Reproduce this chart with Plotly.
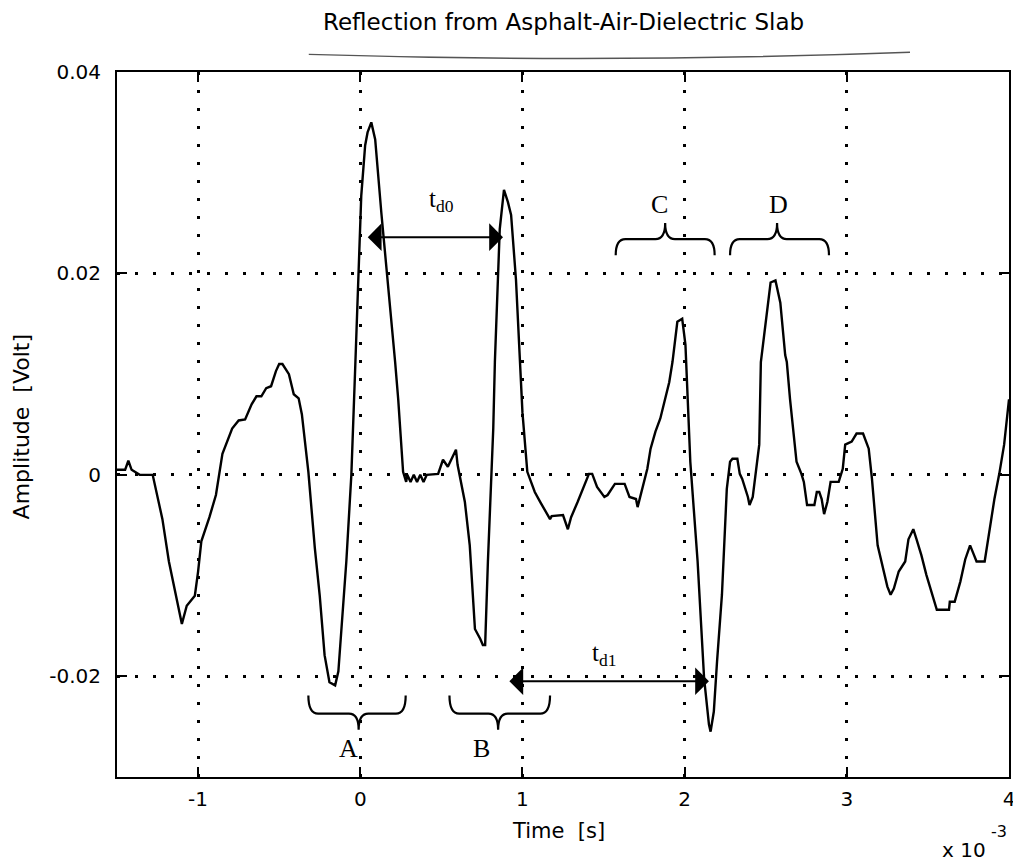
import plotly.graph_objects as go

# ---- data (time in ms, i.e. x 10^-3 s ; amplitude in Volt) ----
time_ms = [-1.5, -1.45, -1.43, -1.41, -1.36, -1.28, -1.22, -1.18, -1.10, -1.07,
           -1.02, -1.0, -0.98, -0.93, -0.89, -0.85, -0.79, -0.75, -0.71, -0.67,
           -0.64, -0.61, -0.58, -0.55, -0.52, -0.50, -0.48, -0.44, -0.41, -0.38,
           -0.36, -0.32, -0.28, -0.25, -0.22, -0.19, -0.155, -0.135, -0.086, -0.055,
           -0.03, -0.01, 0.006, 0.03, 0.045, 0.068, 0.092, 0.13, 0.17, 0.215,
           0.234, 0.264, 0.283, 0.29, 0.31, 0.33, 0.35, 0.37, 0.39, 0.41,
           0.48, 0.51, 0.54, 0.56, 0.59, 0.60, 0.645, 0.675, 0.707, 0.74,
           0.756, 0.77, 0.787, 0.82, 0.83, 0.86, 0.886, 0.91, 0.93, 0.96,
           0.984, 1.0, 1.03, 1.076, 1.11, 1.17, 1.18, 1.25, 1.28, 1.30,
           1.34, 1.38, 1.41, 1.43, 1.46, 1.505, 1.525, 1.57, 1.63, 1.66,
           1.70, 1.71, 1.74, 1.77, 1.79, 1.82, 1.85, 1.875, 1.905, 1.925,
           1.955, 1.985, 2.005, 2.035, 2.08, 2.12, 2.15, 2.16, 2.18, 2.20,
           2.23, 2.26, 2.28, 2.295, 2.325, 2.34, 2.355, 2.39, 2.40, 2.42,
           2.44, 2.46, 2.47, 2.48, 2.53, 2.56, 2.59, 2.62, 2.63, 2.65,
           2.69, 2.72, 2.735, 2.755, 2.80, 2.815, 2.83, 2.845, 2.86, 2.88,
           2.90, 2.95, 2.975, 2.99, 3.03, 3.06, 3.10, 3.135, 3.155, 3.19,
           3.22, 3.25, 3.27, 3.29, 3.32, 3.36, 3.38, 3.41, 3.43, 3.46,
           3.49, 3.525, 3.555, 3.63, 3.635, 3.665, 3.70, 3.73, 3.76, 3.78,
           3.80, 3.85, 3.88, 3.91, 3.94, 3.97, 4.0]
amplitude = [0.0005, 0.0005, 0.0014, 0.0005, 0.0, 0.0, -0.0044, -0.0086, -0.0148, -0.013,
             -0.012, -0.0096, -0.0066, -0.0042, -0.002, 0.0021, 0.0046, 0.0054, 0.0055, 0.007,
             0.0078, 0.0078, 0.0086, 0.0088, 0.0103, 0.011, 0.011, 0.0100, 0.0080, 0.0076,
             0.006, 0.0003, -0.0073, -0.012, -0.0179, -0.0206, -0.0209, -0.0195, -0.0086, 0.0,
             0.0112, 0.021, 0.0277, 0.0327, 0.034, 0.035, 0.0333, 0.026, 0.0194, 0.0112,
             0.0075, 0.0003, -0.0007, 0.0, -0.0007, 0.0, -0.0007, 0.0, -0.0007, 0.0,
             0.0001, 0.0015, 0.0008, 0.0015, 0.0025, 0.001, -0.0027, -0.007, -0.0153, -0.0163,
             -0.0169, -0.0169, -0.0086, 0.0046, 0.0112, 0.0244, 0.0283, 0.0271, 0.0258, 0.0194,
             0.0112, 0.0062, 0.0003, -0.0017, -0.0027, -0.0044, -0.0041, -0.004, -0.0054, -0.0042,
             -0.0027, -0.001, 0.0001, 0.0001, -0.0012, -0.0022, -0.002, -0.0009, -0.0009, -0.0022,
             -0.0024, -0.0032, -0.0014, 0.0006, 0.0026, 0.0043, 0.0056, 0.0072, 0.0092, 0.0112,
             0.0152, 0.0155, 0.0129, 0.0013, -0.0086, -0.0202, -0.0248, -0.0255, -0.0235, -0.0185,
             -0.0119, -0.0014, 0.0013, 0.0016, 0.0016, 0.0001, -0.0004, -0.0022, -0.003, -0.0022,
             0.0006, 0.003, 0.0112, 0.0125, 0.0191, 0.0193, 0.0171, 0.0119, 0.0112, 0.0075,
             0.0013, 0.0001, -0.0007, -0.003, -0.003, -0.0017, -0.0017, -0.0024, -0.0039, -0.0027,
             -0.0007, -0.0007, 0.0006, 0.003, 0.0033, 0.0041, 0.0041, 0.0026, -0.0004, -0.007,
             -0.009, -0.0111, -0.0119, -0.0113, -0.0096, -0.0086, -0.0064, -0.0054, -0.0064, -0.008,
             -0.0099, -0.0119, -0.0134, -0.0134, -0.0126, -0.0126, -0.0106, -0.0084, -0.007, -0.0078,
             -0.0086, -0.0086, -0.0053, -0.0024, 0.0001, 0.003, 0.0075]

x_ticks = [-1, 0, 1, 2, 3, 4]
x_tick_labels = ["-1", "0", "1", "2", "3", "4"]
y_ticks = [-0.02, 0, 0.02, 0.04]
y_tick_labels = ["-0.02", "0", "0.02", "0.04"]

# braces: (label, left, right, centre, end y, line y, tip y, label x, label y)
braces = [
    ("A", -0.32, 0.28, -0.01, -0.0219, -0.0237, -0.0253, -0.07, -0.0272),
    ("B", 0.55, 1.17, 0.85, -0.0219, -0.0237, -0.0253, 0.745, -0.0272),
    ("C", 1.575, 2.185, 1.88, 0.0218, 0.0234, 0.0250, 1.845, 0.0268),
    ("D", 2.28, 2.89, 2.57, 0.0218, 0.0234, 0.0250, 2.58, 0.0268),
]
# double arrows: (x start, x end, y, label, label x, label y)
arrows = [
    (0.037, 0.88, 0.0236, "t<sub>d0</sub>", 0.50, 0.0272),
    (0.91, 2.15, -0.0205, "t<sub>d1</sub>", 1.50, -0.0178),
]

SANS = "DejaVu Sans"
SERIF = "Liberation Serif"

fig = go.Figure()
fig.add_trace(go.Scatter(x=time_ms, y=amplitude, mode="lines",
                         line=dict(color="black", width=2.4), showlegend=False,
                         hoverinfo="skip"))

shapes = []
for lab, x0, x1, xc, ye, yl, yt, lx, ly in braces:
    dx = 0.06
    path = (f"M {x0},{ye} Q {x0},{yl} {x0+dx},{yl} L {xc-dx},{yl} "
            f"Q {xc},{yl} {xc},{yt} Q {xc},{yl} {xc+dx},{yl} "
            f"L {x1-dx},{yl} Q {x1},{yl} {x1},{ye}")
    shapes.append(dict(type="path", xref="x", yref="y", path=path,
                       line=dict(color="black", width=2.2)))

# hand-drawn stroke under the title
shapes.append(dict(type="path", xref="paper", yref="paper",
                   path="M 0.215,1.025 Q 0.55,1.012 0.889,1.028",
                   line=dict(color="#555555", width=1.5)))

annotations = []
for lab, x0, x1, xc, ye, yl, yt, lx, ly in braces:
    annotations.append(dict(x=lx, y=ly, xref="x", yref="y", text=lab, showarrow=False,
                            xanchor="center", yanchor="middle",
                            font=dict(family=SERIF, size=26, color="black")))
for xs, xe, yy, lab, lx, ly in arrows:
    annotations.append(dict(x=xe, y=yy, ax=xs, ay=yy, xref="x", yref="y",
                            axref="x", ayref="y", text="", showarrow=True,
                            arrowhead=1, arrowsize=2.3, arrowwidth=2,
                            startarrowhead=1, startarrowsize=2.3,
                            arrowside="end+start", arrowcolor="black"))
    annotations.append(dict(x=lx, y=ly, xref="x", yref="y", text=lab, showarrow=False,
                            xanchor="center", yanchor="middle",
                            font=dict(family=SERIF, size=25, color="black")))

def paper_text(x, y, text, size, angle=0):
    return dict(x=x, y=y, xref="paper", yref="paper", text=text, showarrow=False,
                xanchor="center", yanchor="middle", textangle=angle,
                font=dict(family=SANS, size=size, color="black"))

annotations += [
    paper_text(0.5, 1.071, "Reflection from Asphalt-Air-Dielectric Slab", 23),
    paper_text(-0.106, 0.4965, "Amplitude  [Volt]", 22, -90),
    paper_text(0.4955, -0.0766, "Time  [s]", 21),
    paper_text(0.949, -0.1035, "x 10", 20),
    paper_text(0.989, -0.0766, "-3", 16),
]

axis_common = dict(showline=True, linecolor="black", linewidth=2, mirror="allticks",
                   ticks="inside", ticklen=10, tickwidth=2, tickcolor="black",
                   showgrid=True, gridcolor="black", gridwidth=2.5, griddash="3px,15px",
                   zeroline=False,
                   tickfont=dict(family=SANS, size=20, color="black"))

fig.update_xaxes(range=[-1.5, 4], tickvals=x_ticks, ticktext=x_tick_labels,
                 ticklabelstandoff=3, ticklabeloverflow="allow", **axis_common)
fig.update_yaxes(range=[-0.03, 0.04], tickvals=y_ticks, ticktext=y_tick_labels,
                 ticklabelstandoff=10, **axis_common)

fig.update_layout(width=1013, height=856, plot_bgcolor="white", paper_bgcolor="white",
                  margin=dict(l=109, r=6, t=64, b=87), shapes=shapes, annotations=annotations,
                  showlegend=False)

fig.write_html("out.html")
